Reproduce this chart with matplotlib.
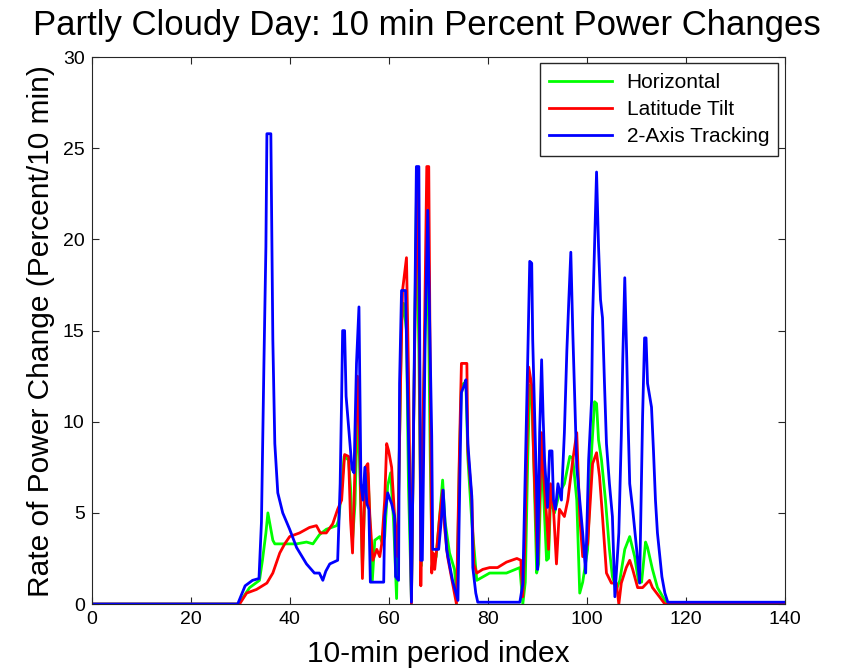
import numpy as np
import matplotlib
matplotlib.use('Agg')
import matplotlib.pyplot as plt

plt.rcParams['font.family'] = ['Liberation Sans', 'DejaVu Sans']

# Horizontal (green)
horiz_x = [0, 29.7, 31.9, 33.9, 34.5, 35.2, 35.6, 36.2, 36.6, 37.0, 41.4, 43.4, 44.7, 46.0, 47.4, 49.5, 49.9,
           50.5, 51.0, 51.9, 52.3, 52.7, 53.2, 53.7, 54.1, 54.7, 55.3, 55.8, 56.3, 56.7, 57.2, 58.2, 58.8, 59.2,
           59.8, 60.4, 61.0, 61.6, 62.2, 62.6, 63.0, 63.6, 64.0, 64.6, 65.0, 65.6, 66.1, 66.6, 66.9, 67.3,
           67.9, 68.4, 68.8, 69.6, 70.3, 70.9, 71.4, 72.3, 73.3, 73.8, 74.3, 74.7, 75.6, 76.0, 76.8, 77.8,
           80.4, 83.8, 86.5, 87.1, 87.6, 88.1, 88.5, 88.9, 89.3, 89.9, 90.3, 90.9, 91.3, 91.9, 92.3, 92.7,
           93.5, 94.5, 95.5, 96.6, 97.2, 98.0, 98.6, 99.2, 100.2, 101.0, 101.6, 102.0, 102.4, 103.0, 103.8,
           104.6, 105.2, 106.0, 106.7, 107.7, 108.7, 109.7, 110.5, 111.1, 111.9, 112.3, 113.3, 114.3, 115.8,
           116.5, 140]
horiz_y = [0, 0, 0.9, 1.3, 2.4, 3.9, 5.0, 4.1, 3.5, 3.3, 3.3, 3.4, 3.3, 3.8, 4.1, 4.3, 4.6,
           6.4, 8.1, 7.9, 6.4, 3.5, 5.5, 10.5, 8.0, 2.0, 7.0, 7.2, 4.0, 1.3, 3.5, 3.7, 3.3, 3.7,
           6.5, 7.2, 4.5, 0.3, 9.0, 15.5, 16.5, 15.0, 6.5, 0.2, 9.0, 22.0, 14.0, 2.1, 9.0, 14.5,
           19.0, 8.0, 2.0, 2.6, 4.8, 6.8, 4.5, 2.8, 1.9, 0.4, 8.0, 12.0, 12.2, 8.0, 4.5, 1.3,
           1.7, 1.7, 2.0, 0.0, 1.2, 8.0, 12.0, 11.5, 8.0, 1.7, 2.2, 8.4, 6.0, 2.4, 2.5, 5.7,
           5.0, 6.1, 6.6, 8.1, 8.0, 5.7, 0.6, 1.2, 3.0, 8.4, 11.1, 11.0, 9.0, 7.9, 5.7,
           3.0, 1.5, 0.8, 1.3, 3.0, 3.7, 2.6, 1.2, 1.2, 3.4, 3.1, 1.9, 0.9, 0.2,
           0, 0]

# Latitude Tilt (red)
tilt_x = [0, 29.7, 30.0, 31.3, 33.3, 35.4, 36.6, 38.0, 39.0, 40.0, 42.0, 44.0, 45.4, 46.2, 47.4, 48.7, 49.7,
          50.5, 51.1, 51.9, 52.3, 52.7, 53.1, 53.7, 54.1, 54.7, 55.3, 55.8, 56.2, 56.8, 57.6, 58.2, 58.6,
          59.2, 59.6, 60.0, 60.6, 61.2, 61.8, 62.4, 62.8, 63.6, 64.0, 64.3, 64.6, 65.0, 65.4, 65.8, 66.2,
          66.5, 66.9, 67.3, 67.7, 68.1, 68.5, 68.7, 69.0, 69.3, 69.7, 70.3, 70.9, 71.3, 71.9, 72.9, 73.7,
          74.3, 74.7, 75.8, 76.0, 76.8, 77.2, 77.8, 79.0, 80.4, 82.0, 83.8, 85.9, 86.7, 87.1, 87.5, 87.9,
          88.3, 88.9, 89.3, 89.7, 90.1, 90.9, 91.3, 91.9, 92.3, 92.7, 93.3, 93.9, 94.5, 95.5, 96.2, 97.2,
          98.0, 98.6, 99.2, 100.2, 101.2, 102.0, 102.6, 103.2, 104.0, 105.0, 106.0, 106.5, 107.0, 108.0,
          108.7, 109.3, 110.3, 111.3, 112.7, 113.3, 114.7, 115.8, 140]
tilt_y = [0, 0, 0.05, 0.6, 0.8, 1.15, 1.7, 2.8, 3.3, 3.7, 3.9, 4.2, 4.3, 3.9, 3.9, 4.4, 5.2,
          5.7, 8.2, 8.1, 4.6, 2.8, 6.6, 12.5, 9.4, 1.4, 7.5, 7.7, 4.8, 2.4, 3.0, 2.6, 3.3,
          5.7, 8.8, 8.4, 7.5, 4.8, 2.6, 12.1, 17.2, 19.0, 12.8, 6.6, 0.0, 9.0, 17.0, 23.5, 16.0,
          1.0, 9.0, 16.0, 24.0, 24.0, 8.8, 1.7, 2.8, 1.9, 3.0, 4.8, 6.25, 4.2, 2.6, 1.15, 0.0,
          8.4, 13.2, 13.2, 8.4, 5.7, 2.2, 1.7, 1.9, 2.0, 2.0, 2.3, 2.5, 2.4, 0.4, 3.1, 8.4,
          13.0, 12.0, 8.0, 5.0, 2.0, 9.4, 7.0, 4.8, 3.0, 6.6, 5.2, 2.2, 5.2, 4.8, 5.7, 7.9,
          9.4, 4.8, 2.6, 3.3, 7.7, 8.3, 7.0, 4.8, 1.7, 1.15, 1.15, 0.0, 1.15, 2.0,
          2.4, 1.9, 0.9, 0.9, 1.3, 0.9, 0.4, 0, 0]

# 2-Axis Tracking (blue)
track_x = [0, 29.5, 31.0, 32.5, 33.8, 34.3, 34.8, 35.2, 35.4, 36.2, 36.4, 36.6, 37.0, 37.6, 38.6, 40.0, 41.4,
           43.4, 45.0, 46.0, 46.7, 47.3, 48.1, 49.7, 50.2, 50.5, 50.7, 51.1, 51.4, 52.0, 52.6, 53.0, 53.5,
           54.0, 54.4, 54.8, 55.2, 55.6, 56.0, 56.3, 56.6, 59.0, 59.2, 59.8, 60.6, 61.2, 61.4, 62.0, 62.2,
           62.6, 63.4, 63.8, 64.2, 64.6, 65.0, 65.3, 65.6, 66.1, 66.5, 66.8, 67.1, 67.4, 67.9, 68.3, 68.7,
           68.9, 70.1, 70.7, 71.0, 71.7, 72.9, 74.0, 74.2, 74.5, 74.7, 75.4, 75.6, 76.0, 76.8, 77.0, 77.6,
           78.0, 86.5, 87.1, 87.7, 88.1, 88.5, 88.9, 89.1, 89.5, 89.9, 90.1, 90.5, 90.9, 91.2, 91.5, 92.1,
           92.5, 93.0, 93.3, 93.7, 94.2, 94.9, 95.5, 96.0, 96.4, 96.8, 97.2, 97.6, 98.0, 98.6, 99.2, 99.8,
           100.4, 101.0, 101.2, 101.6, 102.0, 102.4, 102.8, 103.2, 103.6, 104.0, 104.6, 105.2, 105.7, 106.5,
           107.0, 107.3, 107.7, 108.1, 108.4, 108.7, 109.3, 110.1, 110.7, 111.3, 111.7, 112.0, 112.3, 113.1,
           113.5, 113.9, 114.3, 115.2, 115.8, 116.4, 140]
track_y = [0, 0, 1.0, 1.3, 1.4, 4.5, 13.2, 19.6, 25.8, 25.8, 20.1, 14.5, 8.8, 6.1, 5.0, 4.1, 3.1,
           2.2, 1.7, 1.7, 1.3, 1.8, 2.2, 2.4, 6.6, 11.4, 15.0, 15.0, 11.4, 9.4, 7.4, 7.2, 13.2,
           16.3, 6.6, 5.7, 7.5, 5.5, 5.2, 1.2, 1.2, 1.2, 4.8, 6.1, 5.5, 4.8, 1.5, 1.3, 12.1,
           17.2, 17.2, 12.0, 6.6, 0.1, 9.0, 16.5, 24.0, 24.0, 2.4, 2.4, 9.0, 15.2, 21.6, 15.2, 9.2,
           3.0, 3.0, 4.8, 6.25, 3.0, 1.3, 0.2, 3.9, 8.8, 11.6, 12.1, 12.3, 8.8, 5.9, 2.0, 0.6,
           0.1, 0.1, 1.1, 8.4, 13.5, 18.8, 18.7, 14.5, 10.3, 6.1, 1.9, 9.4, 13.4, 10.3, 7.9, 5.3,
           8.4, 8.4, 5.7, 5.2, 6.6, 5.7, 9.4, 13.9, 16.7, 19.3, 14.9, 11.2, 7.5, 5.7, 3.9, 1.7,
           7.9, 11.2, 15.7, 19.6, 23.7, 19.6, 16.7, 15.7, 12.1, 8.8, 6.6, 4.8, 0.4, 3.9,
           9.2, 13.5, 17.9, 13.5, 9.7, 6.6, 5.2, 3.0, 1.15, 10.3, 14.6, 14.6, 12.1, 10.8,
           8.4, 5.7, 3.9, 1.5, 0.6, 0.1, 0.1]

fig = plt.figure(figsize=(8.41, 6.71), dpi=100)
ax = fig.add_axes([0.109, 0.0998, 0.824, 0.815])

ax.plot(horiz_x, horiz_y, color='#00ff00', lw=2.0, label='Horizontal')
ax.plot(tilt_x, tilt_y, color='#ff0000', lw=2.0, label='Latitude Tilt')
ax.plot(track_x, track_y, color='#0000ff', lw=2.0, label='2-Axis Tracking')

ax.set_xlim(0, 140)
ax.set_ylim(0, 30)
ax.set_xticks(np.arange(0, 141, 20))
ax.set_yticks(np.arange(0, 31, 5))
ax.tick_params(direction='in', top=True, right=True, length=5, labelsize=14,
               color='#262626', labelcolor='black', pad=5)
for s in ax.spines.values():
    s.set_color('#262626')

# title sits a bit left of the axes centre, like the original
ax.set_title('Partly Cloudy Day: 10 min Percent Power Changes', fontsize=25, pad=16, x=0.484)
ax.set_xlabel('10-min period index', fontsize=21.5, labelpad=9)
ax.set_ylabel('Rate of Power Change (Percent/10 min)', fontsize=21.5, labelpad=6)

leg = ax.legend(loc='upper right', fontsize=15, fancybox=False, framealpha=1,
                edgecolor='#262626', borderaxespad=0.3, handlelength=3.0,
                handletextpad=0.7, borderpad=0.45, labelspacing=0.4)
leg.get_frame().set_linewidth(1.0)

fig.savefig('out.png', dpi=100)
